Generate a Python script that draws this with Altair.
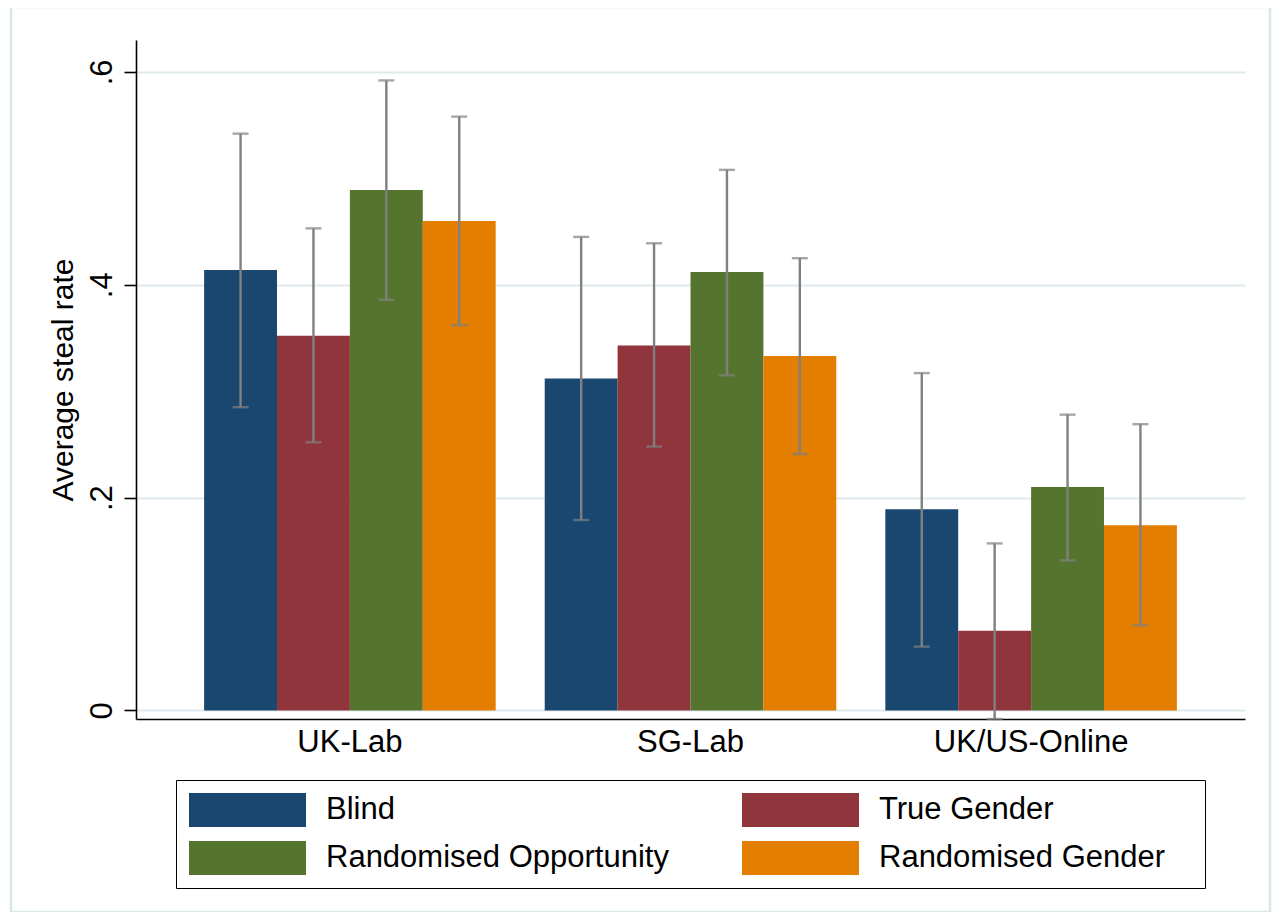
import altair as alt
import pandas as pd

groups = ["UK-Lab", "SG-Lab", "UK/US-Online"]
treatments = ["Blind", "True Gender", "Randomised Opportunity", "Randomised Gender"]
colors = ["#1a476f", "#90353b", "#55752f", "#e37e00"]

# mean steal rate per group (rows) and treatment (columns)
means = [
    [0.414, 0.352, 0.489, 0.460],
    [0.312, 0.343, 0.412, 0.333],
    [0.189, 0.075, 0.210, 0.174],
]
ci_low = [
    [0.285, 0.252, 0.386, 0.362],
    [0.179, 0.248, 0.315, 0.241],
    [0.060, -0.008, 0.141, 0.080],
]
ci_high = [
    [0.542, 0.453, 0.592, 0.558],
    [0.445, 0.439, 0.508, 0.425],
    [0.317, 0.157, 0.278, 0.269],
]
y_ticks = [0, 0.2, 0.4, 0.6]

rows = []
for gi, g in enumerate(groups):
    for ti, t in enumerate(treatments):
        rows.append({"group": g, "treatment": t, "mean": means[gi][ti],
                     "lo": ci_low[gi][ti], "hi": ci_high[gi][ti]})
df = pd.DataFrame(rows)

FONT = "Liberation Sans, Arial, Helvetica, sans-serif"

x_enc = alt.X("group:N", sort=groups,
              scale=alt.Scale(paddingInner=0.144, paddingOuter=0.2),
              axis=alt.Axis(title=None, labelAngle=0, ticks=False, grid=False,
                            domainColor="black", domainWidth=1.6,
                            labelFontSize=31, labelFont=FONT, labelColor="black",
                            labelPadding=8, labelLimit=600))
xo_enc = alt.XOffset("treatment:N", sort=treatments,
                     scale=alt.Scale(domain=treatments, paddingInner=0, paddingOuter=0))
y_scale = alt.Scale(domain=[-0.008, 0.63], nice=False, zero=False)

bars = alt.Chart(df).mark_bar(strokeWidth=0).encode(
    x=x_enc,
    xOffset=xo_enc,
    y=alt.Y("mean:Q", scale=y_scale,
            axis=alt.Axis(title="Average steal rate", values=y_ticks,
                          labelExpr="datum.value == 0 ? '0' : replace(format(datum.value, '.1f'), '0.', '.')",
                          labelAngle=270, labelAlign="center", labelBaseline="alphabetic",
                          labelFontSize=31, labelFont=FONT, labelColor="black", labelPadding=13,
                          tickSize=12, tickColor="black", tickWidth=1.6,
                          domainColor="black", domainWidth=1.6,
                          grid=True, gridColor="#dfe9ee", gridWidth=2,
                          titleFontSize=30, titleFont=FONT, titleFontWeight="normal",
                          titleColor="black", titlePadding=8)),
    y2=alt.datum(0),
    color=alt.Color("treatment:N", sort=treatments,
                    scale=alt.Scale(domain=treatments, range=colors),
                    legend=alt.Legend(
                        title=".", titleOrient="right", titleColor="white",
                        titleFontSize=31, titlePadding=18, titleFont=FONT,
                        orient="none", legendX=40, legendY=740,
                        direction="horizontal",
                        columns=2, symbolType="M-1,-0.29H1V0.29H-1Z", symbolSize=13689,
                        symbolStrokeWidth=0, symbolOpacity=1, clipHeight=34,
                        labelFontSize=31, labelFont=FONT, labelColor="black",
                        labelOffset=20, labelLimit=600, columnPadding=73, rowPadding=14,
                        padding=13, strokeColor="black")),
)

rules = alt.Chart(df).mark_rule(color="#808080", strokeWidth=2.4).encode(
    x=alt.X("group:N", sort=groups), xOffset=xo_enc,
    y=alt.Y("lo:Q", scale=y_scale), y2="hi:Q")

caps_lo = alt.Chart(df).mark_tick(color="#808080", size=16, thickness=2.4, orient="horizontal").encode(
    x=alt.X("group:N", sort=groups), xOffset=xo_enc, y=alt.Y("lo:Q", scale=y_scale))
caps_hi = alt.Chart(df).mark_tick(color="#808080", size=16, thickness=2.4, orient="horizontal").encode(
    x=alt.X("group:N", sort=groups), xOffset=xo_enc, y=alt.Y("hi:Q", scale=y_scale))

frame = alt.Chart(alt.Data(values=[{}])).mark_rect(
    filled=False, stroke="#dbe6eb", strokeWidth=2.5).encode(
    x=alt.value(-125), x2=alt.value(1134), y=alt.value(-33), y2=alt.value(872))

chart = alt.layer(frame, bars, rules, caps_lo, caps_hi).properties(
    width=1109, height=679,
    autosize=alt.AutoSizeParams(type="none"),
    padding={"left": 128, "top": 32, "right": 27, "bottom": 193},
    background="white",
).configure_view(stroke=None)

chart.save("out.html", embed_options={"renderer": "svg", "actions": False})
